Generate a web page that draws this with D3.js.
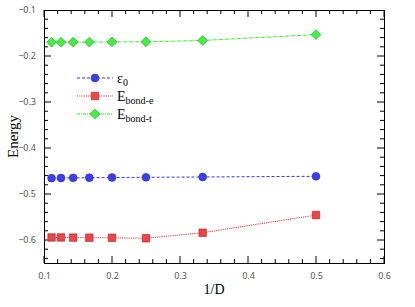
<!DOCTYPE html>
<html>
<head>
<meta charset="utf-8">
<script src="https://cdn.jsdelivr.net/npm/d3@7"></script>
<style>
  body { margin: 0; background: #fff; }
  svg { display: block; }
</style>
</head>
<body>
<div class="chart"></div>
<script>
// data
const invD = [1/9, 1/8, 1/7, 1/6, 1/5, 1/4, 1/3, 1/2]
const eps0 = [-0.4655, -0.4652, -0.4649, -0.4646, -0.4642, -0.4637, -0.4630, -0.4615]
const eBondE = [-0.5945, -0.5945, -0.5948, -0.5950, -0.5952, -0.5962, -0.5842, -0.5458]
const eBondT = [-0.1700, -0.1700, -0.1698, -0.1697, -0.1693, -0.1690, -0.1662, -0.1535]
const xTicks = [0.1, 0.2, 0.3, 0.4, 0.5, 0.6]
const yTicks = [-0.1, -0.2, -0.3, -0.4, -0.5, -0.6]

let width = 415
let height = 307
var margin = {top: 10, right: 31, bottom: 44, left: 44}

let x = d3.scaleLinear()
  .domain([0.1, 0.6])
  .range([margin.left, width - margin.right])

let y = d3.scaleLinear()
  .domain([-0.65, -0.1])
  .range([height - margin.bottom, margin.top])

const svg = d3.select('.chart').append('svg')
  .attr('width', width)
  .attr('height', height)

// axes: labels only, ticks drawn by hand so they point inward on all four sides
const fmt = d3.format('.1f')
let bottomAxis = g => g
  .attr('transform', `translate(0,${height - margin.bottom})`)
  .call(d3.axisBottom(x).tickValues(xTicks).tickSize(0).tickPadding(10).tickFormat(fmt))
let leftAxis = g => g
  .attr('transform', `translate(${margin.left},0)`)
  .call(d3.axisLeft(y).tickValues(yTicks).tickSize(0).tickPadding(8).tickFormat(d => fmt(d).replace('-', '\u2212')))

svg.append('g').call(bottomAxis)
svg.append('g').call(leftAxis)
svg.selectAll('.domain').remove()
svg.selectAll('.tick text')
  .attr('fill', '#555')
  .attr('font-family', 'Noto Sans, sans-serif')
  .attr('font-size', 9)

const ticks = svg.append('g').attr('stroke', '#000').attr('stroke-width', 1)
const yMinor = d3.range(0, 28).map(i => -0.64 + i * 0.02).filter(v => v <= -0.1)
const xMinor = d3.range(0, 26).map(i => 0.1 + i * 0.02).filter(v => v <= 0.6)
const bottomY = height - margin.bottom, topY = margin.top
const leftX = margin.left, rightX = width - margin.right

xMinor.forEach(v => {
  const major = xTicks.some(t => Math.abs(t - v) < 1e-6)
  const len = major ? 7 : 4
  ticks.append('line').attr('x1', x(v)).attr('x2', x(v)).attr('y1', bottomY).attr('y2', bottomY - len)
  ticks.append('line').attr('x1', x(v)).attr('x2', x(v)).attr('y1', topY).attr('y2', topY + len)
})
yMinor.forEach(v => {
  const major = yTicks.some(t => Math.abs(t - v) < 1e-6)
  const len = major ? 7 : 4
  ticks.append('line').attr('y1', y(v)).attr('y2', y(v)).attr('x1', leftX).attr('x2', leftX + len)
  ticks.append('line').attr('y1', y(v)).attr('y2', y(v)).attr('x1', rightX).attr('x2', rightX - len)
})

svg.append('rect')
  .attr('x', leftX + 0.5).attr('y', topY + 0.5)
  .attr('width', rightX - leftX).attr('height', bottomY - topY)
  .attr('fill', 'none').attr('stroke', '#000')

const series = [
  {values: eps0, color: '#3333ee', fill: '#3d3df2', stroke: '#2828b0', dash: '3,2', shape: 'circle'},
  {values: eBondE, color: '#ff3030', fill: '#f04545', stroke: '#a02020', dash: '1.2,1', shape: 'square'},
  {values: eBondT, color: '#22ee22', fill: '#44ee44', stroke: '#22a022', dash: '3,1,1,1', shape: 'diamond'}
]

const symbols = {
  circle: d3.symbol().type(d3.symbolCircle).size(48),
  square: d3.symbol().type(d3.symbolSquare).size(56),
  diamond: d3.symbol().type(d3.symbolSquare).size(48)
}
const rot = { circle: 0, square: 0, diamond: 45 }

const line = d3.line().x(d => x(d[0])).y(d => y(d[1]))

series.forEach(s => {
  const pts = invD.map((v, i) => [v, s.values[i]])
  svg.append('path')
    .datum(pts)
    .attr('fill', 'none')
    .attr('stroke', s.color)
    .attr('stroke-width', 1)
    .attr('stroke-dasharray', s.dash)
    .attr('d', line)
  svg.append('g')
    .selectAll('path')
    .data(pts)
    .join('path')
      .attr('transform', d => `translate(${x(d[0])},${y(d[1])}) rotate(${rot[s.shape]})`)
      .attr('d', symbols[s.shape])
      .attr('fill', s.fill)
      .attr('stroke', s.stroke)
      .attr('stroke-width', 0.6)
})

// legend
const legend = svg.append('g').attr('font-family', 'Liberation Serif, serif').attr('font-size', 14)
const labels = [['\u03b5', '0'], ['E', 'bond-e'], ['E', 'bond-t']]
series.forEach((s, i) => {
  const ly = 78 + i * 18
  legend.append('line')
    .attr('x1', 77).attr('x2', 113).attr('y1', ly).attr('y2', ly)
    .attr('stroke', s.color).attr('stroke-dasharray', s.dash)
  legend.append('path')
    .attr('transform', `translate(95,${ly}) rotate(${rot[s.shape]})`)
    .attr('d', symbols[s.shape])
    .attr('fill', s.fill).attr('stroke', s.stroke).attr('stroke-width', 0.6)
  const t = legend.append('text').attr('x', 117).attr('y', ly + 5)
  t.append('tspan').text(labels[i][0])
  t.append('tspan').attr('font-size', 10).attr('dy', 3).text(labels[i][1])
})

// axis titles
svg.append('text')
  .attr('x', (leftX + rightX) / 2).attr('y', 294)
  .attr('text-anchor', 'middle')
  .attr('font-family', 'Liberation Serif, serif').attr('font-size', 14)
  .text('1/D')

svg.append('text')
  .attr('transform', `translate(18,${(topY + bottomY) / 2}) rotate(-90)`)
  .attr('text-anchor', 'middle')
  .attr('font-family', 'Liberation Serif, serif').attr('font-size', 15)
  .text('Energy')
</script>
</body>
</html>
